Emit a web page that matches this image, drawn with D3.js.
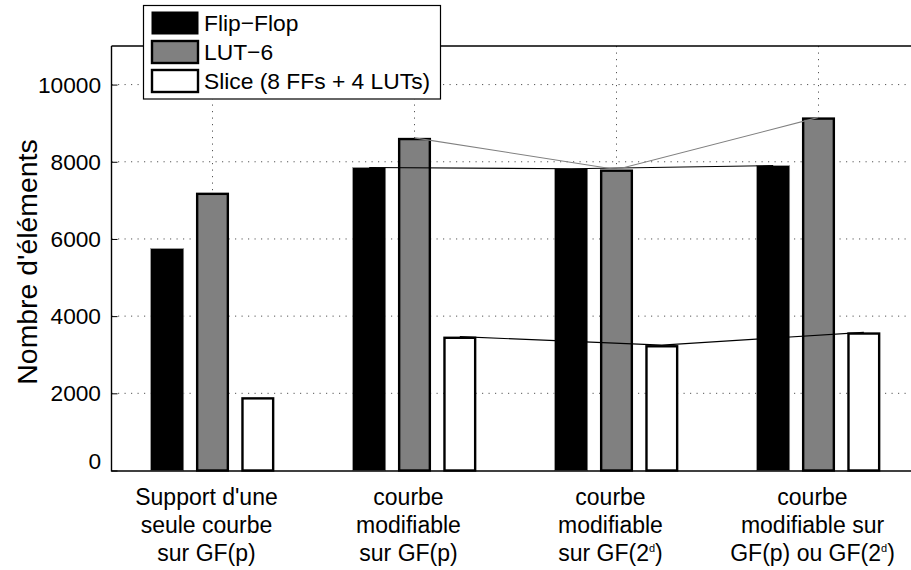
<!DOCTYPE html>
<html><head><meta charset="utf-8">
<script src="https://cdn.jsdelivr.net/npm/d3@7"></script>
<style>
html,body{margin:0;padding:0;background:#fff;}
svg{display:block;font-family:"Liberation Sans",Arial,Helvetica,sans-serif;}
</style></head>
<body>
<svg id="chart" width="911" height="570"></svg>
<script>
// ---- data ----
const categories = [
  ["Support d'une", "seule courbe", "sur GF(p)"],
  ["courbe", "modifiable", "sur GF(p)"],
  ["courbe", "modifiable", "sur GF(2^d)"],
  ["courbe", "modifiable sur", "GF(p) ou GF(2^d)"]
];
const seriesNames = ["Flip\u2212Flop", "LUT\u22126", "Slice (8 FFs + 4 LUTs)"];
const flipFlop = [5750, 7850, 7820, 7900];
const lut6     = [7200, 8620, 7800, 9150];
const slice    = [1900, 3470, 3250, 3580];
const yTicks   = [0, 2000, 4000, 6000, 8000, 10000];
const seriesValues = [flipFlop, lut6, slice];

// ---- styles ----
const fills = ["#000000", "#808080", "#ffffff"];
const lineColors = ["#000000", "#808080", "#000000"];

(function () {
const svg = d3.select("#chart");
const pL = 111.5, pR = 919.5, pT = 46, pB = 470.5;

const x = d3.scaleLinear().domain([0.5, 4.5]).range([pL, pR]);
const y = d3.scaleLinear().domain([0, 11000]).range([pB, pT]);
const unit = x(1) - x(0);
const inner = d3.scaleBand().domain(d3.range(3))
  .range([-0.3365 * unit, 0.3365 * unit]).paddingInner(0.27).paddingOuter(0.135);
const bw = inner.bandwidth();

// grid
const grid = svg.append("g");
yTicks.filter(t => t > 0).forEach(t => {
  grid.append("line").attr("x1", pL).attr("x2", 911).attr("y1", y(t)).attr("y2", y(t))
    .attr("stroke", "#555").attr("stroke-width", 1).attr("stroke-dasharray", "1.2,5.3");
});
d3.range(1, 5).forEach(i => {
  grid.append("line").attr("x1", x(i)).attr("x2", x(i)).attr("y1", pT).attr("y2", pB)
    .attr("stroke", "#555").attr("stroke-width", 1).attr("stroke-dasharray", "1.2,5.3");
});

// bars
seriesValues.forEach((vals, s) => {
  const g = svg.append("g");
  vals.forEach((v, i) => {
    const cx = x(i + 1) + inner(s) + bw / 2;
    if (s === 0) {
      g.append("rect").attr("x", cx - bw / 2).attr("y", y(v)).attr("width", bw)
        .attr("height", y(0) - y(v)).attr("fill", fills[s])
        .attr("stroke", "#999").attr("stroke-width", 0.6);
    } else {
      g.append("rect").attr("x", cx - bw / 2 + 1.2).attr("y", y(v) + 1.2).attr("width", bw - 2.4)
        .attr("height", y(0) - y(v) - 1.2).attr("fill", fills[s])
        .attr("stroke", "#000").attr("stroke-width", 2.4);
    }
  });
});

// trend lines across groups 2-4
seriesValues.forEach((vals, s) => {
  const pts = [1, 2, 3].map(i => [x(i + 1) + inner(s) + bw / 2, y(vals[i])]);
  svg.append("path").attr("d", d3.line()(pts)).attr("fill", "none")
    .attr("stroke", lineColors[s]).attr("stroke-width", 1.1);
});

// axes lines
svg.append("line").attr("x1", pL).attr("x2", 911).attr("y1", pT).attr("y2", pT)
  .attr("stroke", "#000").attr("stroke-width", 1.4);
svg.append("line").attr("x1", pL).attr("x2", 911).attr("y1", pB + 0.5).attr("y2", pB + 0.5)
  .attr("stroke", "#000").attr("stroke-width", 1.6);
svg.append("line").attr("x1", pL).attr("x2", pL).attr("y1", pT).attr("y2", pB + 1)
  .attr("stroke", "#000").attr("stroke-width", 1.4);

// y ticks
const yAxis = d3.axisRight(y).tickValues(yTicks).tickSize(6).tickFormat("");
const ya = svg.append("g").attr("transform", `translate(${pL},0)`).call(yAxis);
ya.select(".domain").remove();
ya.selectAll("line").attr("stroke", "#000").attr("stroke-width", 1);

yTicks.forEach(t => {
  svg.append("text").attr("x", 101).attr("y", y(t) + (t === 0 ? -10 : 0))
    .attr("dy", "0.36em").attr("text-anchor", "end")
    .attr("font-size", 22.7).attr("fill", "#000").text(t);
});

// y title
svg.append("text").attr("transform", "translate(37,262) rotate(-90)")
  .attr("text-anchor", "middle").attr("font-size", 28.4).attr("fill", "#000")
  .text("Nombre d'éléments");

// x labels
categories.forEach((lines, i) => {
  const t = svg.append("text").attr("text-anchor", "middle").attr("font-size", 23).attr("fill", "#000");
  lines.forEach((ln, j) => {
    const ts = t.append("tspan").attr("x", x(i + 1) - 6).attr("y", 505 + j * 28);
    const parts = ln.split("^");
    if (parts.length === 1) { ts.text(ln); }
    else {
      ts.append("tspan").text(parts[0]);
      ts.append("tspan").attr("font-size", 11).attr("dy", -9).text(parts[1].charAt(0));
      ts.append("tspan").attr("dy", 9).text(parts[1].slice(1));
    }
  });
});

// legend
const lg = svg.append("g");
lg.append("rect").attr("x", 143.5).attr("y", 5.5).attr("width", 297).attr("height", 93.5)
  .attr("fill", "#fff").attr("stroke", "#000").attr("stroke-width", 1.2);
seriesNames.forEach((nm, s) => {
  const ry = 12 + s * 29;
  lg.append("rect").attr("x", 152).attr("y", ry).attr("width", 46).attr("height", 22)
    .attr("fill", fills[s]).attr("stroke", "#000").attr("stroke-width", s === 0 ? 1 : 2.4);
  lg.append("text").attr("x", 204).attr("y", ry + 11).attr("dy", "0.36em")
    .attr("font-size", 22.8).attr("fill", "#000").text(nm);
});
})();
</script>
</body></html>
